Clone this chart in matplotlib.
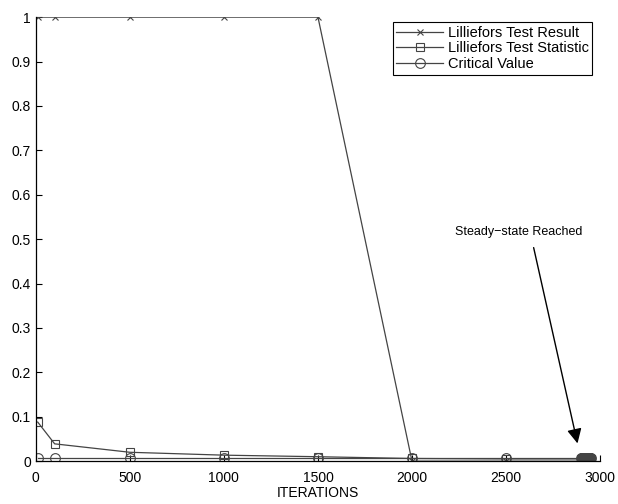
import numpy as np
import matplotlib.pyplot as plt
from matplotlib.ticker import FormatStrFormatter

plt.rcParams['font.family'] = ['Liberation Sans', 'DejaVu Sans']

# main sample points
iters = [10, 100, 500, 1000, 1500, 2000, 2500]
test_result = [1, 1, 1, 1, 1, 0, 0]
test_stat = [0.088, 0.039, 0.020, 0.0135, 0.010, 0.006, 0.005]
crit_val = [0.008, 0.008, 0.008, 0.008, 0.008, 0.008, 0.008]

# dense cluster once steady state is reached
iters_ss = [2900, 2902, 2904, 2906, 2908, 2910, 2912, 2914, 2916, 2918,
            2920, 2922, 2924, 2926, 2928, 2930, 2932, 2934, 2936, 2938,
            2940, 2942, 2944, 2946, 2948, 2950]
result_ss = [0] * len(iters_ss)
stat_ss = [0.005] * len(iters_ss)
crit_ss = [0.008] * len(iters_ss)

x = iters + iters_ss
y_res = test_result + result_ss
y_stat = test_stat + stat_ss
y_crit = crit_val + crit_ss

fig = plt.figure(figsize=(6.18, 5.04), dpi=100)
ax = fig.add_axes([0.058, 0.085, 0.913, 0.881])

lc = '#444444'
ax.plot(x, y_res, color=lc, lw=0.9, marker='x', ms=5, mew=0.8, mfc='none',
        label='Lilliefors Test Result')
ax.plot(x, y_stat, color=lc, lw=0.9, marker='s', ms=6, mew=0.8, mfc='none',
        label='Lilliefors Test Statistic')
ax.plot(x, y_crit, color=lc, lw=0.9, marker='o', ms=7, mew=0.8, mfc='none',
        label='Critical Value')

ax.set_xlim(0, 3000)
ax.set_ylim(0, 1)
ax.set_xticks([0, 500, 1000, 1500, 2000, 2500, 3000])
ax.set_yticks(np.arange(0, 1.01, 0.1))
ax.yaxis.set_major_formatter(FormatStrFormatter('%g'))
ax.tick_params(direction='in', length=4, labelsize=10, width=0.8)
ax.tick_params(axis='x', pad=7)
ax.spines['top'].set_visible(False)
ax.spines['right'].set_visible(False)
for s in ['left', 'bottom']:
    ax.spines[s].set_linewidth(0.9)
ax.set_xlabel('ITERATIONS', fontsize=10, labelpad=1)

ax.annotate('Steady\u2212state Reached', xy=(2880, 0.04), xytext=(2229, 0.516),
            fontsize=9, va='center', ha='left',
            arrowprops=dict(arrowstyle='-|>', color='black', lw=1,
                            mutation_scale=22, shrinkA=5, shrinkB=0,
                            relpos=(0.6, 0)))

leg = ax.legend(loc='upper right', bbox_to_anchor=(0.986, 0.989), fontsize=10.5,
                fancybox=False, edgecolor='black', framealpha=1,
                handlelength=3.2, borderpad=0.25, labelspacing=0.12,
                handletextpad=0.3, borderaxespad=0)
leg.get_frame().set_linewidth(0.8)

fig.savefig('out.png', dpi=100)
